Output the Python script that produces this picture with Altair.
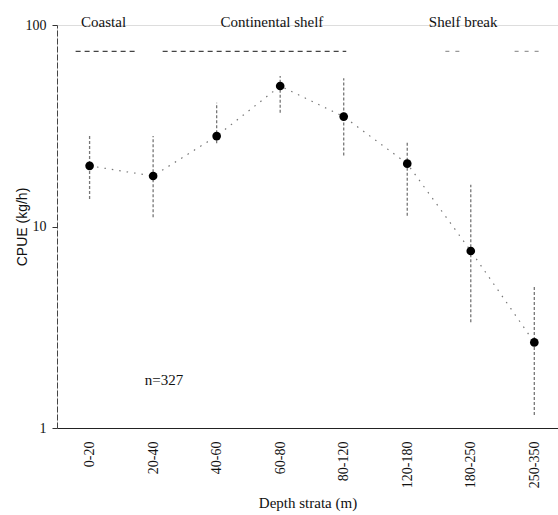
import altair as alt
import pandas as pd

# ---- data ----
strata = ["0-20", "20-40", "40-60", "60-80", "80-120", "120-180", "180-250", "250-350"]
cpue = [20.0, 17.8, 28.1, 49.8, 35.1, 20.5, 7.56, 2.66]
cpue_hi = [28.1, 28.1, 41.1, 55.8, 54.4, 26.3, 16.1, 5.07]
cpue_lo = [13.7, 11.1, 25.9, 36.7, 22.5, 11.3, 3.35, 1.16]

region_names = ["Coastal", "Continental shelf", "Shelf break"]
region_pos = [0.22, 2.87, 5.88]
region_y = [104, 104, 104]

# dashed spans marking the regions (start index, end index)
span_start = [-0.22, 1.15]
span_end = [0.74, 4.04]
span_y = [74, 74]
# fainter dashed spans in the shelf-break region
faint_start = [5.6, 6.69]
faint_end = [5.87, 7.07]
faint_y = [74, 74]

note_text = ["n=327"]
note_x = [1.17]
note_y = [1.73]

SERIF = "Liberation Serif"

df = pd.DataFrame({
    "idx": list(range(len(strata))),
    "stratum": strata,
    "cpue": cpue,
    "hi": cpue_hi,
    "lo": cpue_lo,
})
regions = pd.DataFrame({"name": region_names, "x": region_pos, "y": region_y})
spans = pd.DataFrame({"x": span_start, "x2": span_end, "y": span_y})
faint = pd.DataFrame({"x": faint_start, "x2": faint_end, "y": faint_y})
notes = pd.DataFrame({"t": note_text, "x": note_x, "y": note_y})

label_expr = "[" + ",".join("'" + s + "'" for s in strata) + "][datum.value]"

xscale = alt.Scale(domain=[-0.513, 7.373], nice=False, zero=False)
yscale = alt.Scale(type="log", domain=[1, 100], nice=False)

x_enc = alt.X(
    "idx:Q",
    scale=xscale,
    axis=alt.Axis(
        title="Depth strata (m)",
        values=list(range(len(strata))),
        labelExpr=label_expr,
        labelAngle=270,
        labelFont=SERIF,
        labelFontSize=14,
        labelColor="#111",
        labelPadding=13,
        ticks=False,
        grid=False,
        domainColor="#222",
        domainWidth=1.2,
        titleFont=SERIF,
        titleFontSize=15,
        titleFontWeight="normal",
        titleColor="#111",
        titlePadding=8,
    ),
)
y_enc = alt.Y(
    "cpue:Q",
    scale=yscale,
    axis=alt.Axis(
        title="CPUE (kg/h)",
        values=[1, 10, 100],
        format="d",
        labelFont=SERIF,
        labelFontSize=14,
        labelColor="#111",
        labelPadding=6,
        tickSize=5,
        tickColor="#333",
        grid=False,
        domainColor="#444",
        domainWidth=1,
        domainDash=[6, 2],
        titleFont="Liberation Sans",
        titleFontSize=14,
        titleFontWeight="normal",
        titleColor="#111",
        titleX=-35,
        titleBaseline="middle",
        titleAngle=270,
    ),
)

line = alt.Chart(df).mark_line(
    color="#777", strokeWidth=1.2, strokeDash=[1.5, 6]
).encode(x=x_enc, y=y_enc)

bars = alt.Chart(df).mark_rule(
    color="#777", strokeWidth=1.3, strokeDash=[3, 2]
).encode(x="idx:Q", y="lo:Q", y2="hi:Q")

points = alt.Chart(df).mark_point(
    filled=True, color="#000", opacity=1, size=75, shape="circle"
).encode(x="idx:Q", y="cpue:Q")

span_rules = alt.Chart(spans).mark_rule(
    color="#444", strokeWidth=1.3, strokeDash=[5, 4]
).encode(x="x:Q", x2="x2:Q", y="y:Q")

faint_rules = alt.Chart(faint).mark_rule(
    color="#999", strokeWidth=1.1, strokeDash=[4, 6]
).encode(x="x:Q", x2="x2:Q", y="y:Q")

region_text = alt.Chart(regions).mark_text(
    font=SERIF, fontSize=15, color="#111", align="center", baseline="middle"
).encode(x="x:Q", y="y:Q", text="name:N")

note = alt.Chart(notes).mark_text(
    font=SERIF, fontSize=15, color="#111", align="center", baseline="middle"
).encode(x="x:Q", y="y:Q", text="t:N")

chart = (
    alt.layer(line, bars, span_rules, faint_rules, points, region_text, note)
    .properties(
        width=501,
        height=403,
        autosize=alt.AutoSizeParams(type="none"),
        padding={"left": 57, "top": 25, "right": 0, "bottom": 87},
    )
    .configure_view(stroke=None)
    .configure(background="white")
)

chart.save("out.html", embed_options={"renderer": "svg", "actions": False})
